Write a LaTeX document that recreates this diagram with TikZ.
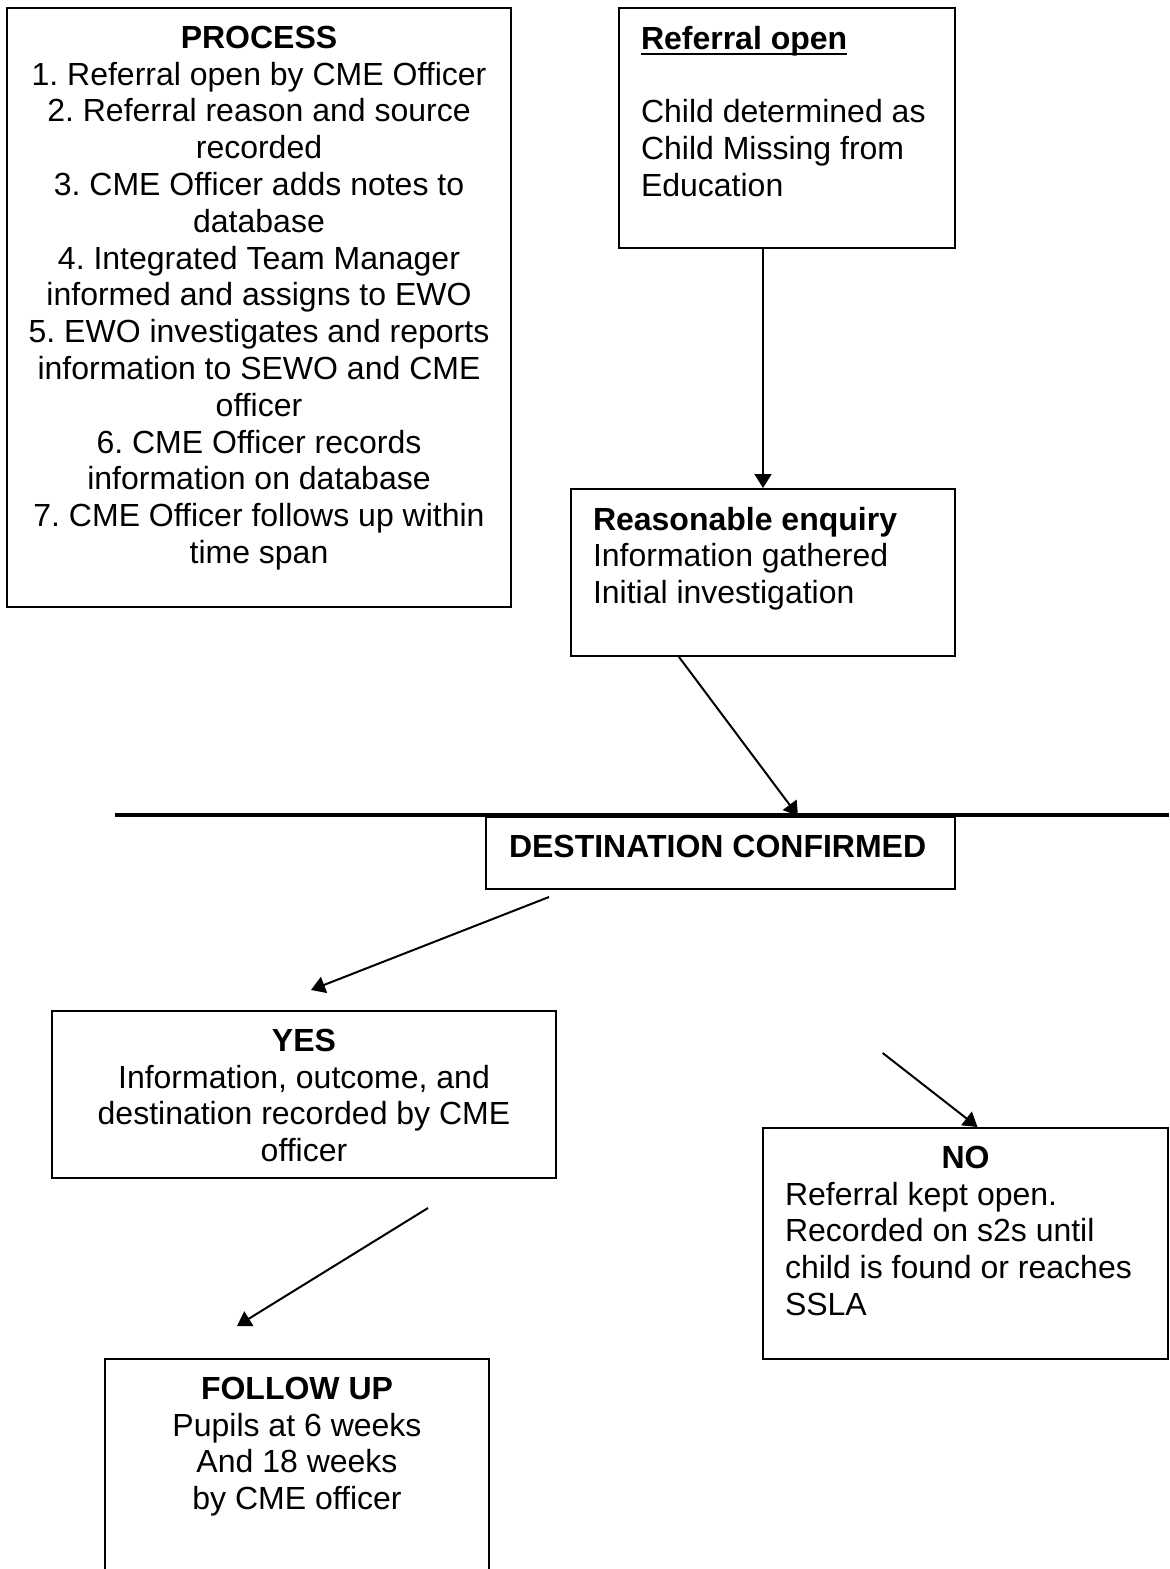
\documentclass[tikz,border=0pt]{standalone}
\usepackage{fontspec}
\setmainfont{Liberation Sans}
\usepackage{tikz}
\usetikzlibrary{arrows.meta}
\usetikzlibrary{calc,positioning}
\tikzstyle{arrow} = [line width=1pt,-{Triangle[length=7pt,width=8.5pt]}]
\tikzset{
    block/.style = {draw, line width=1pt, fill=white, rectangle, inner ysep=9pt, anchor=north west},
    left block/.style = {block, inner xsep=11pt},
    mid block/.style = {block, inner xsep=6pt},
}
\newcommand{\cellbox}[3]{\parbox[c][#2][t]{#1}{#3}}
\newcommand{\headline}[1]{\leavevmode\setbox0\hbox{#1}\rlap{\rule[-3pt]{\wd0}{1.3pt}}\box0}
\frenchspacing

\begin{document}
\begin{tikzpicture}[x=0.5pt, y=-0.5pt, font=\fontsize{16}{18.4}\selectfont]
    \path[fill=white] (0,0) rectangle (1169,1569);
    \useasboundingbox (0,0) rectangle (1169,1569);

    \node [mid block] (process) at (6,7) {\cellbox{240pt}{281.5pt}{\centering
        \textbf{PROCESS}\\
        1. Referral open by CME Officer\\
        2. Referral reason and source\\
        recorded\\
        3. CME Officer adds notes to\\
        database\\
        4. Integrated Team Manager\\
        informed and assigns to EWO\\
        5. EWO investigates and reports\\
        information to SEWO and CME\\
        officer\\
        6. CME Officer records\\
        information on database\\
        7. CME Officer follows up within\\
        time span}};

    \node [left block] (ref) at (618,7) {\cellbox{146pt}{102pt}{\raggedright
        \headline{\textbf{Referral open}}\\[18.4pt]
        Child determined as\\
        Child Missing from\\
        Education}};

    \node [left block] (reas) at (570,488) {\cellbox{170pt}{65.5pt}{\raggedright
        \textbf{Reasonable enquiry}\\
        Information gathered\\
        Initial investigation}};

    \coordinate (rule west) at (115,815);
    \coordinate (rule east) at (1169,815);
    \draw [line width=2pt] (rule west) -- (rule east);

    \node [left block, inner xsep=11.5pt] (dest) at (485,816) {\cellbox{211.5pt}{18pt}{\raggedright
        \textbf{DESTINATION CONFIRMED}}};

    \node [mid block] (yes) at (51,1010) {\cellbox{240pt}{65.5pt}{\centering
        \textbf{YES}\\
        Information, outcome, and\\
        destination recorded by CME\\
        officer}};

    \node [left block] (no) at (762,1127) {\cellbox{180.5pt}{97.5pt}{%
        {\centering\textbf{NO}\par}\raggedright
        Referral kept open.\\
        Recorded on s2s until\\
        child is found or reaches\\
        SSLA}};

    \node [mid block] (follow) at (104,1358) {\cellbox{180pt}{122pt}{\centering
        \textbf{FOLLOW UP}\\
        Pupils at 6 weeks\\
        And 18 weeks\\
        by CME officer}};

    \draw [arrow] (reas.north |- ref.south) -- (reas.north);
    \draw [arrow] ([xshift=-42pt]reas.south) -- ([xshift=38.75pt]dest.north);
    \draw [arrow] ([xshift=-85.75pt, yshift=-3.5pt]dest.south) -- ([xshift=3.5pt, yshift=10pt]yes.north);
    \draw [arrow] ([xshift=-41.4pt, yshift=37pt]no.north) -- ([xshift=6pt]no.north);
    \draw [arrow] ([xshift=62pt, yshift=-14.5pt]yes.south) -- ([xshift=-30pt, yshift=16pt]follow.north);
\end{tikzpicture}
\end{document}
